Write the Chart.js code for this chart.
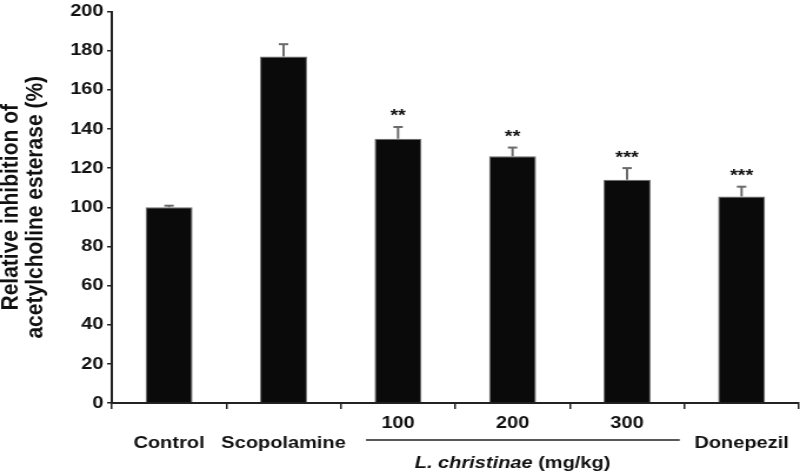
<!DOCTYPE html>
<html>
<head>
<meta charset="utf-8">
<script src="https://cdn.jsdelivr.net/npm/chart.js@4"></script>
<style>
  html, body { margin: 0; padding: 0; background: #fff; overflow: hidden; }
</style>
</head>
<body>
<!-- the reference figure is stretched sideways, so the canvas is too -->
<canvas id="c" width="680" height="475" style="display:block;width:800px;height:475px"></canvas>
<script>
const categories = ['Control', 'Scopolamine', '100', '200', '300', 'Donepezil'];
const isDose     = [false, false, true, true, true, false];
const inhibition = [100, 177, 135, 126, 114, 105.5];
const sem        = [0.8, 6.3, 6, 4.5, 6, 5];
const stars      = ['', '', '**', '**', '***', '***'];
const yTitle     = ['Relative inhibition of', 'acetylcholine esterase (%)'];
const doseName   = 'L. christinae';
const doseUnit   = ' (mg/kg)';

const FONT = '"Liberation Sans", Arial, sans-serif';
const ink = '#111';

// dose values on the first label row, the rest on the second
const tickLabels = categories.map((c, i) => isDose[i] ? [c, ''] : ['', c]);

const errorBars = {
  id: 'errorBars',
  afterDatasetsDraw(chart) {
    const ctx = chart.ctx;
    const y = chart.scales.y;
    const meta = chart.getDatasetMeta(0);
    ctx.save();
    meta.data.forEach((bar, i) => {
      const top = y.getPixelForValue(inhibition[i] + sem[i]);
      ctx.strokeStyle = '#6b6b6b';
      ctx.lineWidth = 2;
      ctx.beginPath();
      ctx.moveTo(bar.x, bar.y);
      ctx.lineTo(bar.x, top);
      ctx.stroke();
      ctx.beginPath();
      ctx.moveTo(bar.x - 4, top);
      ctx.lineTo(bar.x + 4, top);
      ctx.stroke();
      if (stars[i]) {
        ctx.fillStyle = ink;
        ctx.font = 'bold 17px ' + FONT;
        ctx.textAlign = 'center';
        ctx.textBaseline = 'alphabetic';
        ctx.fillText(stars[i], bar.x, top - 5.5);
      }
    });
    ctx.restore();
  }
};

const doseBracket = {
  id: 'doseBracket',
  afterDraw(chart) {
    const ctx = chart.ctx;
    const x = chart.scales.x;
    const first = isDose.indexOf(true);
    const last = isDose.lastIndexOf(true);
    const w = x.getPixelForValue(1) - x.getPixelForValue(0);
    const x0 = x.getPixelForValue(first) - 0.28 * w;
    const x1 = x.getPixelForValue(last) + 0.46 * w;
    ctx.save();
    ctx.strokeStyle = '#222';
    ctx.lineWidth = 1.5;
    ctx.beginPath();
    ctx.moveTo(x0, 440);
    ctx.lineTo(x1, 440);
    ctx.stroke();

    const mid = x.getPixelForValue((first + last) / 2);
    ctx.font = 'italic bold 17px ' + FONT;
    const wa = ctx.measureText(doseName).width;
    ctx.font = 'bold 17px ' + FONT;
    const wb = ctx.measureText(doseUnit).width;
    const start = mid - (wa + wb) / 2;
    ctx.fillStyle = ink;
    ctx.textAlign = 'left';
    ctx.textBaseline = 'middle';
    ctx.font = 'italic bold 17px ' + FONT;
    ctx.fillText(doseName, start, 463);
    ctx.font = 'bold 17px ' + FONT;
    ctx.fillText(doseUnit, start + wa, 463);
    ctx.restore();
  }
};

new Chart(document.getElementById('c'), {
  type: 'bar',
  data: {
    labels: tickLabels,
    datasets: [{
      data: inhibition,
      backgroundColor: '#0a0a0a',
      borderColor: '#6a6a6a',
      borderWidth: 1,
      barPercentage: 0.41,
      categoryPercentage: 1
    }]
  },
  options: {
    responsive: false,
    animation: false,
    devicePixelRatio: 1,
    layout: { padding: { top: 9, right: 1, left: 0, bottom: 0 } },
    plugins: { legend: { display: false }, tooltip: { enabled: false } },
    scales: {
      x: {
        offset: true,
        grid: { drawOnChartArea: false, drawTicks: true, tickLength: 6, color: '#222', lineWidth: 1.5, offset: true },
        border: { display: true, color: '#222', width: 2 },
        ticks: {
          color: ink, padding: 4, maxRotation: 0, autoSkip: false,
          font: { family: FONT, weight: 'bold', size: 17, lineHeight: 1.2 }
        },
        afterFit: s => { s.height = 72; }
      },
      y: {
        min: 0, max: 200,
        grid: { drawOnChartArea: false, drawTicks: true, tickLength: 4, color: '#222', lineWidth: 1.5 },
        border: { display: true, color: '#222', width: 2 },
        ticks: {
          stepSize: 20, color: ink, padding: 3,
          font: { family: FONT, weight: 'bold', size: 17, lineHeight: 1 }
        },
        title: {
          display: true, text: yTitle, color: ink,
          font: { family: FONT, weight: 'bold', size: 21, lineHeight: 1 },
          padding: { top: -1, bottom: 0 }
        },
        afterFit: s => { s.width = 95; }
      }
    }
  },
  plugins: [errorBars, doseBracket]
});
</script>
</body>
</html>
